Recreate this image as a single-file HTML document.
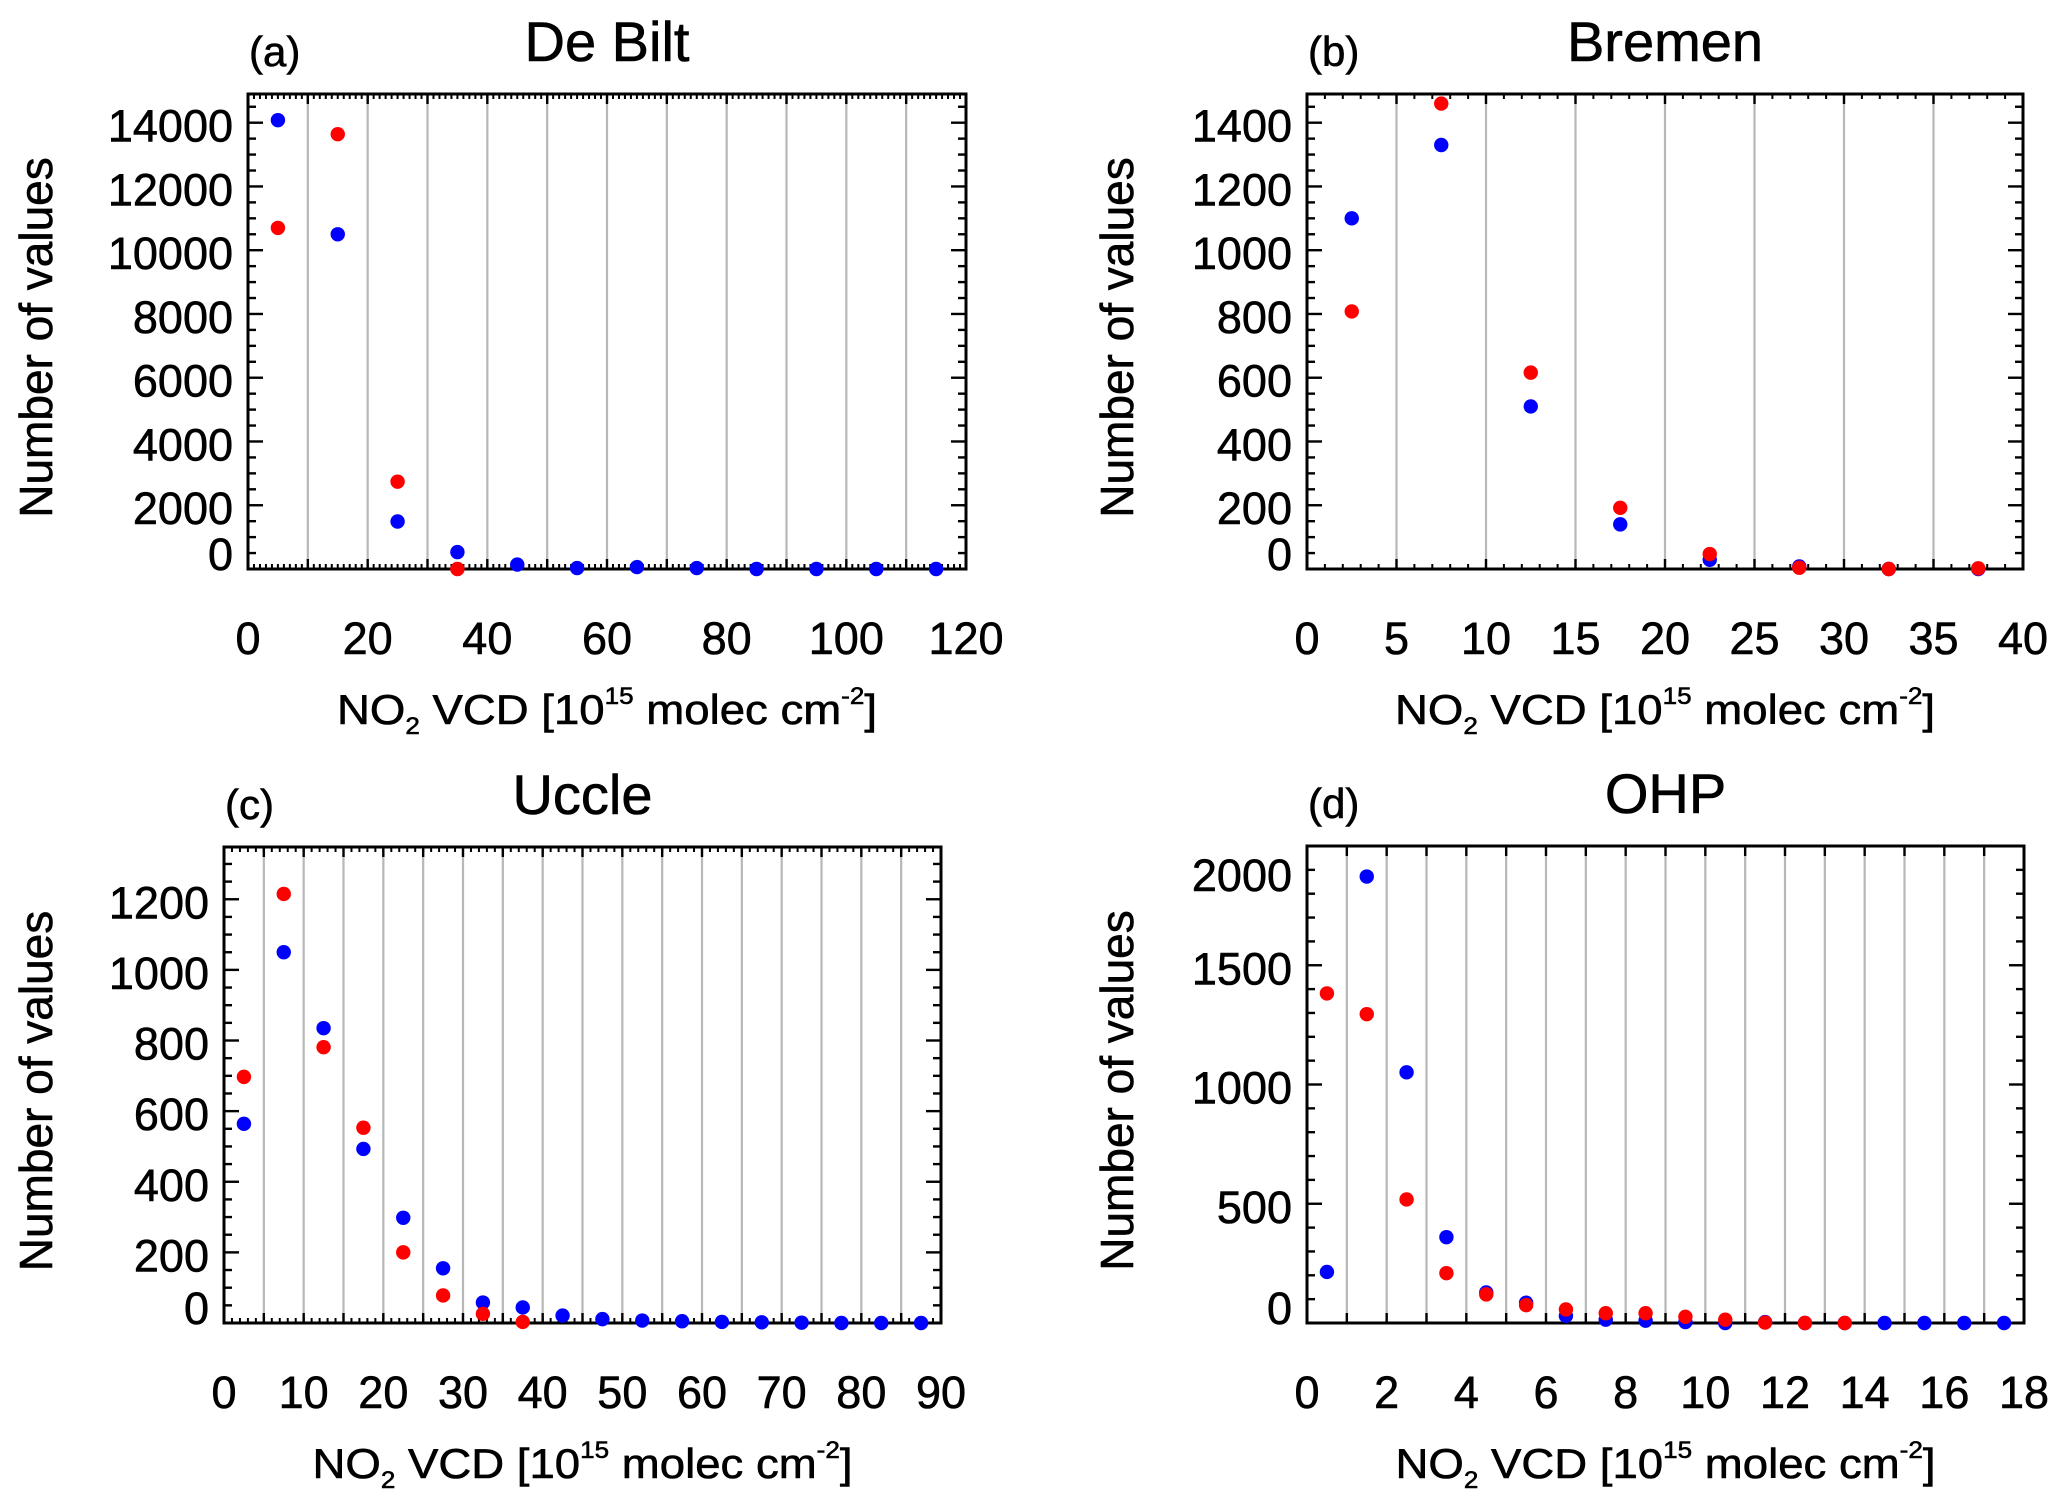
<!DOCTYPE html>
<html><head><meta charset="utf-8"><style>
html,body{margin:0;padding:0;background:#fff;}
svg{display:block;font-family:"Liberation Sans",Arial,sans-serif;}
text{stroke:#000;stroke-width:0.6;}
</style></head><body>
<svg id="fig" width="2067" height="1506" viewBox="0 0 2067 1506" xmlns="http://www.w3.org/2000/svg"></svg>
<script>
// Panel (a) De Bilt
const aX = [5,15,25,35,45,55,65,75,85,95,105,115];
const aBlue = [14080,10500,1490,530,140,30,60,30,0,0,0,0];
const aRedX = [5,15,25,35];
const aRed = [10700,13640,2740,0];
const aYTicks = [0,2000,4000,6000,8000,10000,12000,14000];
const aXTicks = [0,20,40,60,80,100,120];
// Panel (b) Bremen
const bX = [2.5,7.5,12.5,17.5,22.5,27.5,32.5,37.5];
const bBlue = [1100,1330,510,140,29,8,0,0];
const bRed = [808,1460,616,192,47,4,0,2];
const bYTicks = [0,200,400,600,800,1000,1200,1400];
const bXTicks = [0,5,10,15,20,25,30,35,40];
// Panel (c) Uccle
const cX = [2.5,7.5,12.5,17.5,22.5,27.5,32.5,37.5,42.5,47.5,52.5,57.5,62.5,67.5,72.5,77.5,82.5,87.5];
const cBlue = [564,1050,835,493,298,155,58,44,21,11,7,5,3,2,1,0,0,0];
const cRedX = [2.5,7.5,12.5,17.5,22.5,27.5,32.5,37.5];
const cRed = [697,1215,781,553,200,78,26,3];
const cYTicks = [0,200,400,600,800,1000,1200];
const cXTicks = [0,10,20,30,40,50,60,70,80,90];
// Panel (d) OHP
const dX = [0.5,1.5,2.5,3.5,4.5,5.5,6.5,7.5,8.5,9.5,10.5,11.5,12.5,13.5,14.5,15.5,16.5,17.5];
const dBlue = [214,1872,1051,360,128,85,30,14,10,4,0,4,0,0,0,0,0,0];
const dRedX = [0.5,1.5,2.5,3.5,4.5,5.5,6.5,7.5,8.5,9.5,10.5,11.5,12.5,13.5];
const dRed = [1382,1295,518,209,120,75,57,41,41,26,14,2,0,0];
const dYTicks = [0,500,1000,1500,2000];
const dXTicks = [0,2,4,6,8,10,12,14,16,18];

const NS = "http://www.w3.org/2000/svg";
const svg = document.getElementById('fig');
function mk(tag, attrs, parent){
  const e = document.createElementNS(NS, tag);
  for (const k in attrs) e.setAttribute(k, attrs[k]);
  (parent||svg).appendChild(e);
  return e;
}

function panel(p){
  const g = mk('g', {});
  
  
  const sx = v => p.L + (v - p.xmin) / (p.xmax - p.xmin) * (p.R - p.L);
  const sy = v => p.B - v / p.ymax * (p.B - p.T);
  for (let v = p.xmin + p.grid; v < p.xmax - 1e-9; v += p.grid){
    const l = mk('line', {x1:sx(v), x2:sx(v), y1:p.T, y2:p.B, stroke:'#b8b8b8', 'stroke-width':2.2}, g);
    
    
  }
  if (p.xminor){
    for (let v = p.xmin; v <= p.xmax + 1e-9; v += p.xminor){
      mk('line', {x1:sx(v), x2:sx(v), y1:p.B, y2:p.B-5, stroke:'#000', 'stroke-width':2}, g);
      mk('line', {x1:sx(v), x2:sx(v), y1:p.T, y2:p.T+5, stroke:'#000', 'stroke-width':2}, g);
    }
  }
  for (let v = p.xmin; v <= p.xmax + 1e-9; v += p.xmajor){
    mk('line', {x1:sx(v), x2:sx(v), y1:p.B, y2:p.B-10, stroke:'#000', 'stroke-width':2.4}, g);
    mk('line', {x1:sx(v), x2:sx(v), y1:p.T, y2:p.T+10, stroke:'#000', 'stroke-width':2.4}, g);
  }
  for (let v = 0; v <= p.ymax + 1e-9; v += p.yminor){
    const major = Math.abs(v / p.ymajor - Math.round(v / p.ymajor)) < 1e-6;
    const len = major ? 15 : 8;
    mk('line', {x1:p.L, x2:p.L+len, y1:sy(v), y2:sy(v), stroke:'#000', 'stroke-width':2.4}, g);
    mk('line', {x1:p.R, x2:p.R-len, y1:sy(v), y2:sy(v), stroke:'#000', 'stroke-width':2.4}, g);
  }
  const box = mk('rect', {x:p.L, y:p.T, width:p.R-p.L, height:p.B-p.T, fill:'none', stroke:'#000', 'stroke-width':3}, g);
  
  
  const xl = mk('g', {'font-size':45, 'text-anchor':'middle'}, g);
  
  
  p.xticks.forEach(v => {
    const t = mk('text', {x:sx(v), y:p.B+85}, xl);
    t.textContent = v;
  });
  const yl = mk('g', {'font-size':45, 'text-anchor':'end'}, g);
  
  
  p.yticks.forEach(v => {
    let cy = sy(v);
    cy = Math.max(p.T + 26, Math.min(p.B - 18, cy));
    const t = mk('text', {x:p.L-15, y:cy+19}, yl);
    t.textContent = v;
  });
  const bs = mk('g', {fill:'#0000ff'}, g);
  
  
  p.bx.forEach((x,i) => {
    const c = mk('circle', {cx:sx(x), cy:sy(p.by[i]), r:7.2}, bs);
    
    
  });
  const rs = mk('g', {fill:'#ff0000'}, g);
  
  
  p.rx.forEach((x,i) => {
    const c = mk('circle', {cx:sx(x), cy:sy(p.ry[i]), r:7.2}, rs);
    
    
  });
  const cx = (p.L + p.R) / 2;
  const ti = mk('text', {x:cx, y:p.T-33, 'font-size':56, 'text-anchor':'middle'}, g);
  
  
  ti.textContent = p.title;
  const le = mk('text', {x:p.L+1, y:p.T-28, 'font-size':42}, g);
  
  
  le.textContent = '(' + p.id + ')';
  const ycy = (p.T + p.B) / 2 + 6;
  const yt = mk('text', {x:0, y:0, 'font-size':46, 'text-anchor':'middle', transform:`translate(${p.ytx},${ycy}) rotate(-90)`}, g);
  
  
  yt.textContent = 'Number of values';
  const xt = mk('text', {x:cx, y:p.B+155, 'font-size':42, 'text-anchor':'middle', textLength:540, lengthAdjust:'spacingAndGlyphs'}, g);
  
  
  xt.innerHTML = 'NO<tspan font-size="24" dy="10">2</tspan><tspan dy="-10"> VCD [10</tspan><tspan font-size="24" dy="-20">15</tspan><tspan dy="20"> molec cm</tspan><tspan font-size="24" dy="-20">-2</tspan><tspan dy="20">]</tspan>';
}

panel({id:'a', title:'De Bilt', L:248, R:966, T:94, B:569, xmin:0, xmax:120, grid:10, xmajor:10, xminor:1,
  ymax:14900, ymajor:2000, yminor:500, xticks:aXTicks, yticks:aYTicks, bx:aX, by:aBlue, rx:aRedX, ry:aRed, ytx:52});
panel({id:'b', title:'Bremen', L:1307, R:2023, T:94, B:569, xmin:0, xmax:40, grid:5, xmajor:5, xminor:1,
  ymax:1490, ymajor:200, yminor:50, xticks:bXTicks, yticks:bYTicks, bx:bX, by:bBlue, rx:bX, ry:bRed, ytx:1133});
panel({id:'c', title:'Uccle', L:224, R:941, T:847, B:1323, xmin:0, xmax:90, grid:5, xmajor:5, xminor:1,
  ymax:1348, ymajor:200, yminor:50, xticks:cXTicks, yticks:cYTicks, bx:cX, by:cBlue, rx:cRedX, ry:cRed, ytx:52});
panel({id:'d', title:'OHP', L:1307, R:2024, T:846, B:1323, xmin:0, xmax:18, grid:1, xmajor:1, xminor:0,
  ymax:2000, ymajor:500, yminor:100, xticks:dXTicks, yticks:dYTicks, bx:dX, by:dBlue, rx:dRedX, ry:dRed, ytx:1133});
</script>
</body></html>
